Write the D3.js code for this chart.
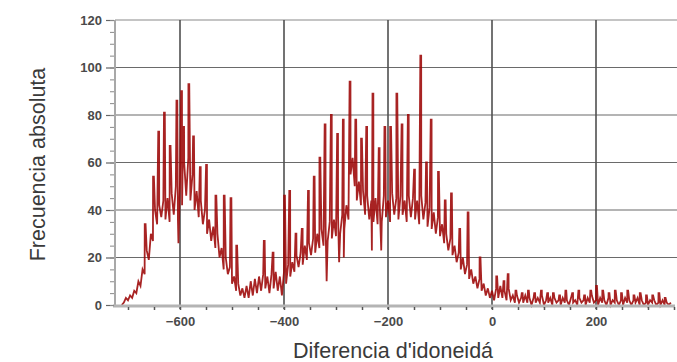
<!DOCTYPE html>
<html>
<head>
<meta charset="utf-8">
<script src="https://cdn.jsdelivr.net/npm/d3@7"></script>
<style>
  body { margin: 0; background: #fff; }
  text { font-family: "Liberation Sans", Arial, sans-serif; }
</style>
</head>
<body>
<svg id="chart" width="677" height="362"></svg>
<script>
// base histogram values, one every 4 units starting at -712
var baseStart = -712, baseStep = 4;
var baseValues = [
  0,1,3,2,4,3,6,5,10,8,15,13,23,19,30,27,40,34,42,37,
  44,36,45,35,47,38,50,36,52,42,60,46,62,44,55,40,48,37,44,34,
  40,30,36,27,33,24,30,20,24,15,20,13,16,9,12,6,9,4,7,3,
  8,3,10,4,11,5,12,6,13,7,12,5,13,7,14,6,12,4,14,9,
  17,12,18,14,21,16,22,17,25,19,26,21,28,22,30,24,32,25,33,27,
  35,28,36,29,37,30,38,32,42,36,55,62,50,44,52,42,48,38,46,36,
  44,35,45,34,43,35,46,37,44,35,47,38,45,36,46,38,44,35,46,37,
  45,36,44,34,46,36,43,33,41,32,39,30,37,29,34,26,30,23,28,21,
  25,18,22,15,20,13,17,11,15,9,12,7,11,6,9,4,7,3,6,2,
  7,3,8,3,6,2,7,2,4,1,4,1,3,1,4,1,3,0,3,1,
  3,1,4,0,2,1,3,0,3,1,2,0,3,1,2,0,3,1,2,0,
  3,1,2,0,3,1,4,1,2,0,3,1,2,0,3,0,2,1,2,0,
  2,0,3,1,2,0,2,1,3,0,2,0,1,0,2,1,2,0,1,0,
  2,0,1,0,1
];

// tall single-bin spikes [x, count]
var spikes = [
  [-667,34],[-651,54],[-641,73],[-630,81],[-619,67],[-606,86],[-597,90],[-593,75],
  [-583,93],[-574,71],[-561,58],[-549,59],[-531,46],[-515,46],[-502,45],[-491,25],
  [-438,27],[-421,22],[-399,46],[-389,48],[-377,30],[-365,32],[-353,48],[-342,54],
  [-331,62],[-321,76],[-309,80],[-297,72],[-286,78],[-273,94],[-262,78],[-251,70],
  [-241,75],[-229,89],[-217,66],[-206,75],[-195,75],[-183,89],[-173,76],[-161,80],
  [-149,57],[-137,105],[-126,60],[-117,78],[-103,56],[-90,44],[-78,47],[-62,32],
  [-46,39],[-23,20],[9,12],[23,10],[31,13],[46,6],[58,5],[70,6],[82,5],[95,6],
  [107,5],[118,5],[130,4],[142,6],[155,5],[167,6],[178,4],[190,6],[201,8],[213,6],
  [225,5],[237,6],[249,5],[261,6],[273,4],[285,5],[297,4],[309,4],[321,5],[333,3]
];

// low bins [x, count]
var dips = [[-603,26],[-318,10],[-294,18],[-285,20],[-231,23],[-213,23]];

var xTicks = [-600, -400, -200, 0, 200];
var yTicks = [0, 20, 40, 60, 80, 100, 120];

var svg = d3.select("#chart");
var margin = { top: 20, right: 3, bottom: 57, left: 115 };
var width = 677, height = 362;

var x = d3.scaleLinear().domain([-725, 350]).range([margin.left, width - margin.right]);
var y = d3.scaleLinear().domain([0, 120]).range([height - margin.bottom, margin.top]);

// spikes get a flat top one bin wide
var spikePts = [];
spikes.forEach(function (s) {
  spikePts.push([s[0] - 0.8, s[1]]);
  spikePts.push([s[0] + 0.8, s[1]]);
});

var data = baseValues.map(function (v, i) { return [baseStart + i * baseStep, v]; })
  .concat(spikePts)
  .concat(dips);
data.sort(function (a, b) { return a[0] - b[0]; });

// horizontal grid
svg.append("g")
  .selectAll("line")
  .data(yTicks.filter(function (d) { return d > 0 && d < 120; }))
  .enter().append("line")
  .attr("x1", margin.left).attr("x2", width)
  .attr("y1", function (d) { return y(d); }).attr("y2", function (d) { return y(d); })
  .style("stroke", "#6a6a6a")
  .style("stroke-width", 1.2);

// top line
svg.append("line")
  .attr("x1", margin.left).attr("x2", width)
  .attr("y1", y(120)).attr("y2", y(120))
  .style("stroke", "#c4c4c4")
  .style("stroke-width", 2);

// vertical grid
svg.append("g")
  .selectAll("line")
  .data(xTicks)
  .enter().append("line")
  .attr("x1", function (d) { return x(d); }).attr("x2", function (d) { return x(d); })
  .attr("y1", y(120)).attr("y2", y(0) + 4)
  .style("stroke", "#505050")
  .style("stroke-width", 1.6);

// histogram line
var line = d3.line()
  .x(function (d) { return x(d[0]); })
  .y(function (d) { return y(d[1]); });

svg.append("path")
  .datum(data)
  .attr("d", line)
  .style("fill", "none")
  .style("stroke", "#9c0404")
  .style("stroke-width", 1.8)
  .style("stroke-opacity", 0.88)
  .style("stroke-linejoin", "miter");

// axes lines
svg.append("line")
  .attr("x1", margin.left).attr("x2", margin.left)
  .attr("y1", y(120)).attr("y2", y(0) + 2)
  .style("stroke", "#a8a8a8")
  .style("stroke-width", 2);

svg.append("line")
  .attr("x1", margin.left - 2).attr("x2", width - 2)
  .attr("y1", y(0) + 1).attr("y2", y(0) + 1)
  .style("stroke", "#b4b4b4")
  .style("stroke-width", 3);

// y axis ticks
var yAxis = d3.axisLeft(y)
  .tickValues(yTicks)
  .tickSize(8)
  .tickPadding(4)
  .tickFormat(d3.format("d"));

var gy = svg.append("g")
  .attr("transform", "translate(" + (margin.left - 1) + ",0)")
  .call(yAxis);
gy.select(".domain").remove();
gy.selectAll(".tick line").style("stroke", "#666").style("stroke-width", 1.2);
gy.selectAll(".tick text")
  .style("font-size", "13px")
  .style("font-weight", "bold")
  .style("fill", "#4a4a4a");

svg.append("g")
  .attr("transform", "translate(" + (margin.left - 1) + ",0)")
  .call(d3.axisLeft(y).ticks(24).tickSize(4).tickFormat(""))
  .call(function (g) { g.select(".domain").remove(); })
  .selectAll(".tick line").style("stroke", "#888");

// x axis ticks
var gx = svg.append("g")
  .attr("transform", "translate(0," + (y(0) + 2) + ")")
  .call(d3.axisBottom(x).tickValues(xTicks).tickSize(0).tickPadding(10).tickFormat(d3.format("d")));
gx.select(".domain").remove();
gx.selectAll(".tick text")
  .style("font-size", "13px")
  .style("font-weight", "bold")
  .style("fill", "#4a4a4a");

svg.append("g")
  .attr("transform", "translate(0," + (y(0) + 2) + ")")
  .call(d3.axisBottom(x).tickValues(d3.range(-700, 351, 50)).tickSize(3).tickFormat(""))
  .call(function (g) { g.select(".domain").remove(); })
  .selectAll(".tick line").style("stroke", "#555").style("stroke-width", 1.5);

// axis titles
svg.append("text")
  .attr("transform", "translate(45," + ((margin.top + y(0)) / 2 + 2) + ") rotate(-90)")
  .attr("text-anchor", "middle")
  .style("font-size", "21.5px")
  .style("fill", "#3a3a3a")
  .text("Frecuencia absoluta");

svg.append("text")
  .attr("x", 393)
  .attr("y", 358)
  .attr("text-anchor", "middle")
  .style("font-size", "21.5px")
  .style("fill", "#3a3a3a")
  .text("Diferencia d'idoneidá");
</script>
</body>
</html>
